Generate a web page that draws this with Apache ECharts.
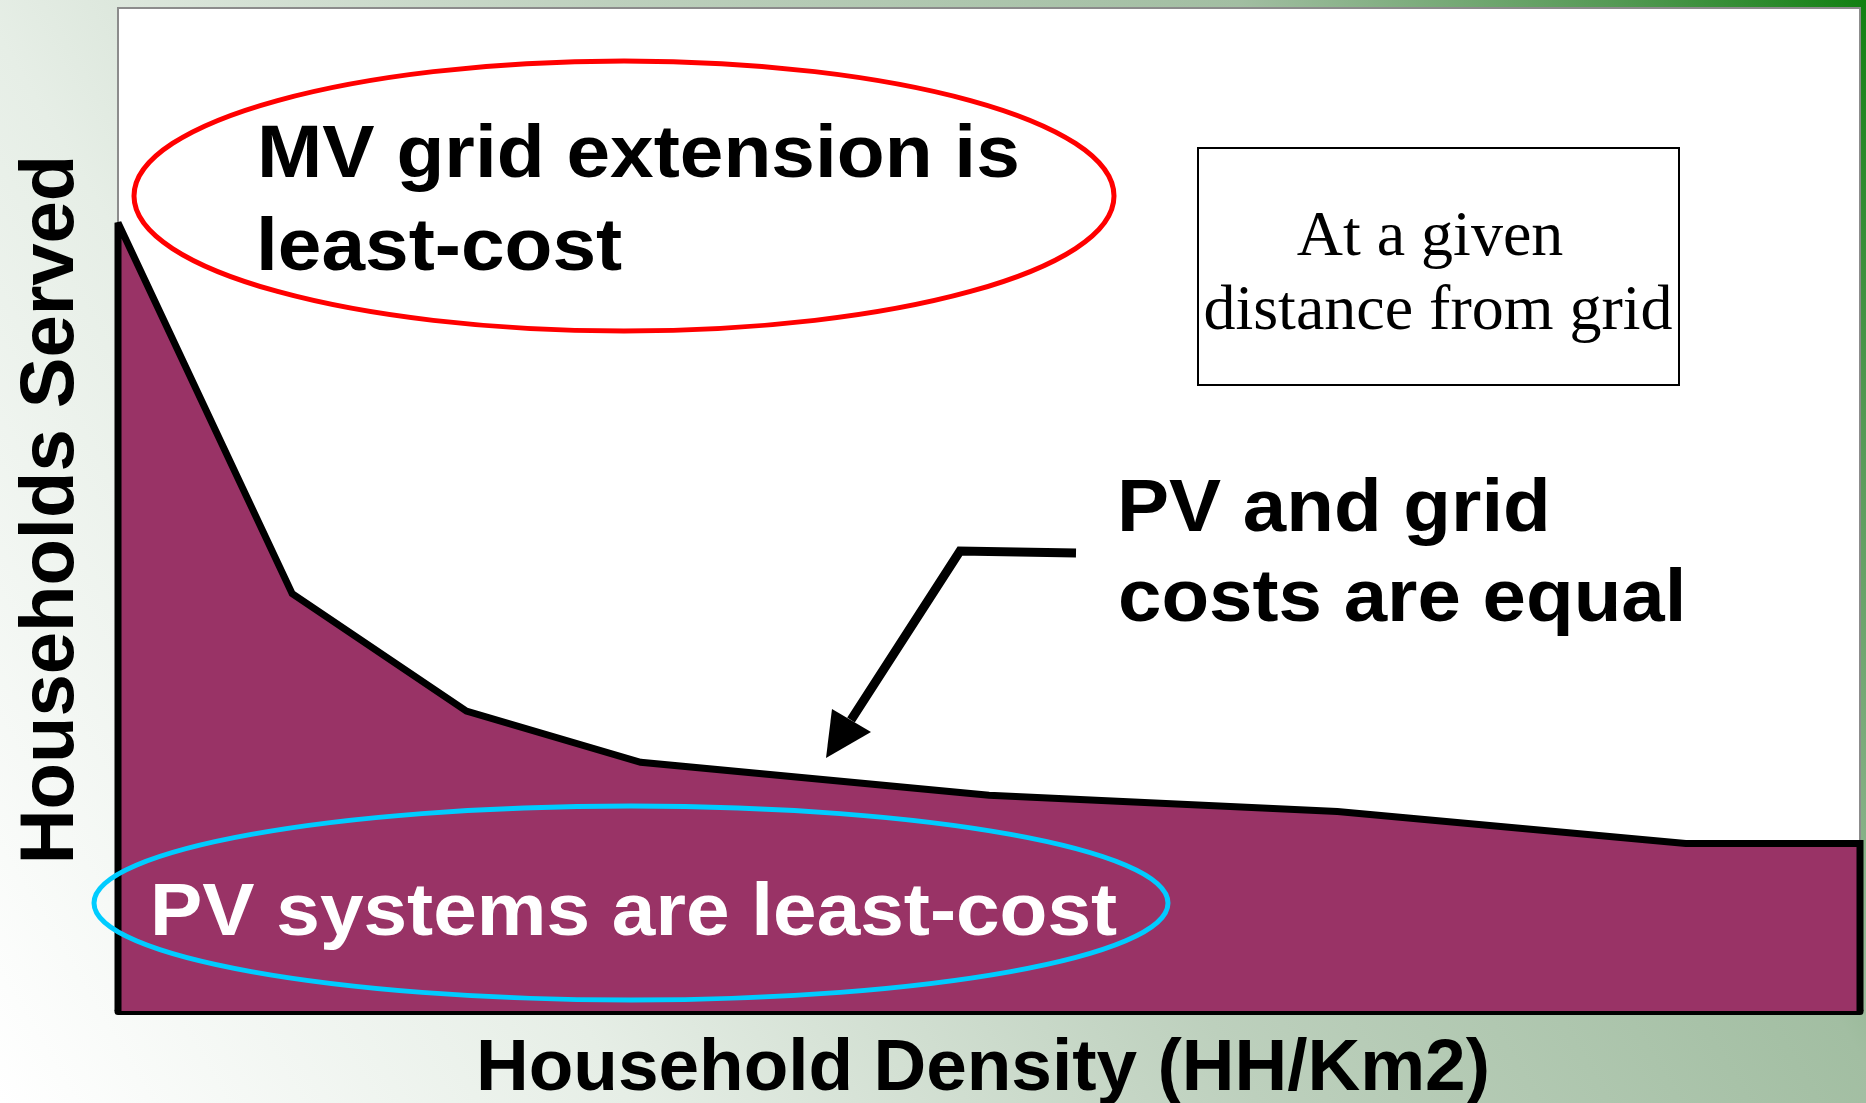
<!DOCTYPE html>
<html>
<head>
<meta charset="utf-8">
<title>Households Served vs Household Density</title>
<script src="https://cdn.jsdelivr.net/npm/echarts@6/dist/echarts.min.js"></script>
<style>
  html, body { margin: 0; padding: 0; }
  #main { width: 1866px; height: 1103px; }
</style>
</head>
<body>
<div id="main"></div>
<script>
// 曲线数据（相对单位），首尾的 0 用来把面积区域的左右两边也描上黑边
var densityX = [0, 0, 1, 2, 3, 5, 7, 9, 10, 10]
var householdsY = [0, 78.6, 41.6, 29.9, 24.8, 21.5, 19.9, 16.7, 16.7, 0]

// 文字
var xAxisTitle = 'Household Density (HH/Km2)'
var yAxisTitle = 'Households Served'
var gridLabel = ['MV grid extension is', 'least-cost']
var equalLabel = ['PV and grid', 'costs are equal']
var pvLabel = 'PV systems are least-cost'
var noteLabel = ['At a given', 'distance from grid']

var sans = '"Liberation Sans", Arial, sans-serif'
var serif = '"Liberation Serif", "Times New Roman", serif'

function boldText(text, x, y, size, color, scaleX) {
  return {
    type: 'text',
    z: 20,
    x: x,
    y: y,
    scaleX: scaleX,
    style: {
      text: text,
      font: 'bold ' + size + 'px ' + sans,
      fill: color,
      align: 'left',
      textAlign: 'left',
      verticalAlign: 'middle',
      textVerticalAlign: 'middle'
    }
  }
}

function serifText(text, x, y) {
  return {
    type: 'text',
    z: 21,
    x: x,
    y: y,
    style: {
      text: text,
      font: '64px ' + serif,
      fill: '#000',
      align: 'center',
      textAlign: 'center',
      verticalAlign: 'middle',
      textVerticalAlign: 'middle'
    }
  }
}

var chart = echarts.init(document.getElementById('main'))

var option = {
  animation: false,
  backgroundColor: new echarts.graphic.LinearGradient(0, 1, 1, 0, [
    { offset: 0, color: '#ffffff' },
    { offset: 0.25, color: '#e6eee6' },
    { offset: 0.5, color: '#bdd0bd' },
    { offset: 0.75, color: '#a2bea2' },
    { offset: 0.9, color: '#549954' },
    { offset: 1, color: '#118011' }
  ]),
  grid: {
    show: true,
    left: 118,
    right: 6,
    top: 8,
    bottom: 92,
    outerBoundsMode: 'none', // 不让轴名把绘图区挤小
    backgroundColor: '#ffffff',
    borderColor: '#8c8c8c',
    borderWidth: 2
  },
  xAxis: {
    type: 'value',
    min: 0,
    max: 10,
    name: xAxisTitle,
    nameLocation: 'middle',
    nameGap: 22,
    nameTextStyle: {
      fontFamily: sans,
      fontWeight: 'bold',
      fontSize: 73,
      color: '#000',
      padding: [0, 12, 0, 0]
    },
    axisLine: { show: true, lineStyle: { color: '#000', width: 7 } },
    axisTick: { show: false },
    axisLabel: { show: false },
    splitLine: { show: false }
  },
  yAxis: {
    type: 'value',
    min: 0,
    max: 100,
    name: yAxisTitle,
    nameLocation: 'middle',
    nameGap: 28,
    nameTextStyle: {
      fontFamily: sans,
      fontWeight: 'bold',
      fontSize: 76,
      color: '#000'
    },
    axisLine: { show: false },
    axisTick: { show: false },
    axisLabel: { show: false },
    splitLine: { show: false }
  },
  series: [
    {
      type: 'line',
      data: densityX.map(function (x, i) { return [x, householdsY[i]] }),
      symbol: 'none',
      clip: false,
      silent: true,
      lineStyle: { color: '#000', width: 7, join: 'miter', miterLimit: 2 },
      areaStyle: { color: '#993366', opacity: 1 }
    }
  ],
  graphic: [
    // 红色椭圆
    {
      type: 'ellipse',
      z: 15,
      shape: { cx: 624, cy: 196, rx: 490, ry: 135 },
      style: { fill: 'none', stroke: '#ff0000', lineWidth: 5 }
    },
    boldText(gridLabel[0], 257, 157, 74, '#000', 1.06),
    boldText(gridLabel[1], 256, 250, 74, '#000', 1.06),
    // 右上角说明框
    {
      type: 'rect',
      z: 20,
      shape: { x: 1198, y: 148, width: 481, height: 237 },
      style: { fill: '#ffffff', stroke: '#000', lineWidth: 2 }
    },
    serifText(noteLabel[0], 1430, 238),
    serifText(noteLabel[1], 1438, 312),
    // 箭头
    {
      type: 'polyline',
      z: 20,
      shape: { points: [[1076, 553], [960, 551], [851, 720]] },
      style: { stroke: '#000', lineWidth: 9, lineJoin: 'miter', fill: null }
    },
    {
      type: 'polygon',
      z: 20,
      shape: { points: [[826, 758], [832, 709], [871, 732]] },
      style: { fill: '#000' }
    },
    boldText(equalLabel[0], 1117, 511, 74, '#000', 1.055),
    boldText(equalLabel[1], 1118, 601, 74, '#000', 1.055),
    // 蓝色椭圆
    {
      type: 'ellipse',
      z: 15,
      shape: { cx: 631, cy: 903, rx: 537, ry: 97 },
      style: { fill: 'none', stroke: '#00ccff', lineWidth: 5 }
    },
    boldText(pvLabel, 150, 914, 75, '#ffffff', 1.045)
  ]
}

chart.setOption(option)
</script>
</body>
</html>
